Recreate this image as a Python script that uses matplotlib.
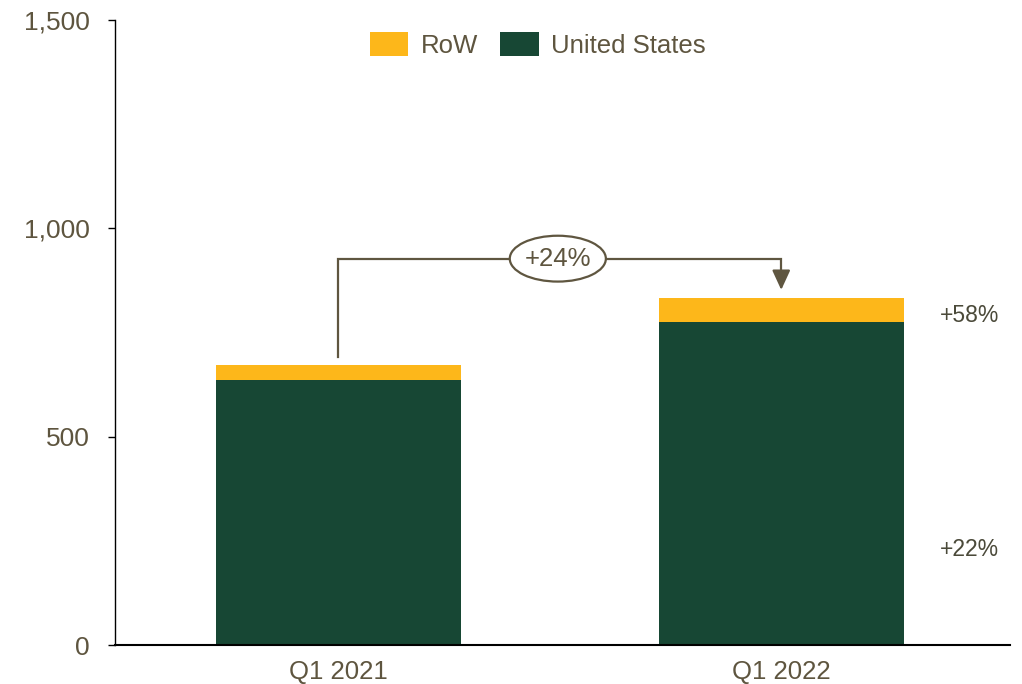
import matplotlib
matplotlib.use("Agg")
import matplotlib.pyplot as plt
from matplotlib.patches import Ellipse
from matplotlib.ticker import FuncFormatter

plt.rcParams['font.family'] = ['Liberation Sans', 'DejaVu Sans']

categories = ["Q1 2021", "Q1 2022"]
us_values = [635, 774]
row_values = [37, 58]
growth_total = "+24%"
growth_row = "+58%"
growth_us = "+22%"
yticks = [0, 500, 1000, 1500]

c_row = "#FDB71A"
c_us = "#174734"
c_text = "#5E553F"
c_line = "#5F5640"
c_lbl = "#4B4A3A"

fig = plt.figure(figsize=(10.22, 6.84), dpi=100)
ax = fig.add_axes([0.1125, 0.057, 0.8755, 0.914])

x = list(range(len(categories)))
w = 0.553
ax.bar(x, us_values, width=w, color=c_us, label="United States", zorder=2)
ax.bar(x, row_values, width=w, bottom=us_values, color=c_row, label="RoW", zorder=2)

ax.set_xlim(-0.5045, 1.516)
ax.set_ylim(0, 1500)
ax.set_yticks(yticks)
ax.yaxis.set_major_formatter(FuncFormatter(lambda v, p: f"{int(v):,}"))
ax.set_xticks(x)
ax.set_xticklabels(categories)

for s in ["top", "right"]:
    ax.spines[s].set_visible(False)
ax.spines["left"].set_color("black")
ax.spines["bottom"].set_color("black")
ax.spines["left"].set_linewidth(1.0)
ax.spines["bottom"].set_linewidth(1.5)
ax.tick_params(axis="y", direction="out", length=5, width=1, colors="black",
               labelcolor=c_text, labelsize=19, pad=13)
ax.tick_params(axis="x", length=0, labelcolor=c_text, labelsize=18.5, pad=11)

# connector
tot0 = us_values[0] + row_values[0]
tot1 = us_values[1] + row_values[1]
yline = 927
ax.plot([0, 0, 1, 1], [tot0 + 20, yline, yline, yline - 40], color=c_line, lw=1.6,
        solid_joinstyle="miter", zorder=3)
ax.annotate("", xy=(1, tot1 + 20), xytext=(1, yline - 38),
            arrowprops=dict(arrowstyle="-|>,head_length=1.2,head_width=0.55",
                            color=c_line, lw=1.6, shrinkA=0, shrinkB=0), zorder=3)
ell = Ellipse((0.4955, yline), 0.217, 110, facecolor="white", edgecolor=c_line,
              lw=1.6, zorder=4)
ax.add_patch(ell)
ax.text(0.4955, yline, growth_total, ha="center", va="center", fontsize=18.5,
        color=c_text, zorder=5)

ax.text(1.425, 790, growth_row, ha="center", va="center", fontsize=16.5, color=c_lbl)
ax.text(1.425, 230, growth_us, ha="center", va="center", fontsize=16.5, color=c_lbl)

handles, labels = ax.get_legend_handles_labels()
leg = ax.legend(handles[::-1], labels[::-1], loc="center", bbox_to_anchor=(0.4725, 0.96),
                ncol=2, frameon=False, fontsize=18.5, handlelength=1.5, handleheight=1.1,
                handletextpad=0.48, columnspacing=0.88, borderaxespad=0)
for t in leg.get_texts():
    t.set_color(c_text)

fig.savefig("out.png", dpi=100)
